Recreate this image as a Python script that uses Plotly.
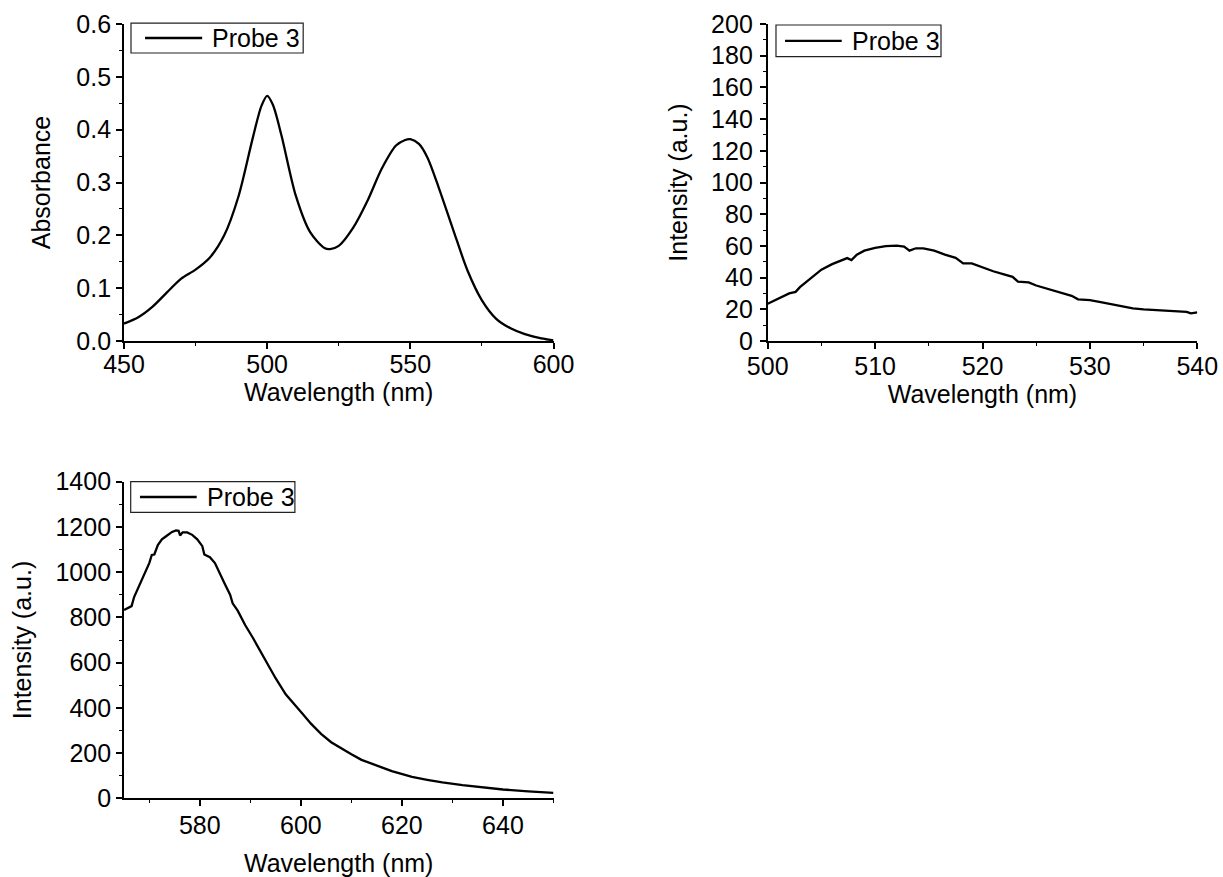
import plotly.graph_objects as go

# --- Absorption spectrum ---
abs_wavelength = [450, 455, 460, 465, 470, 475, 480, 485, 490, 495, 498, 500, 502, 505,
                  510, 515, 520, 522, 525, 530, 535, 540, 545, 548, 550, 553, 556, 560,
                  565, 570, 575, 580, 585, 590, 595, 600]
absorbance = [0.033, 0.045, 0.065, 0.092, 0.118, 0.135, 0.158, 0.200, 0.274, 0.385, 0.445,
              0.464, 0.447, 0.389, 0.275, 0.206, 0.176, 0.174, 0.180, 0.214, 0.265, 0.326,
              0.370, 0.380, 0.382, 0.373, 0.347, 0.289, 0.210, 0.133, 0.077, 0.042, 0.024,
              0.013, 0.006, 0.001]

# --- Emission spectrum (short range) ---
em1_wavelength = [500.0, 501.0, 502.0, 502.6, 503.0, 504.0, 505.0, 506.0, 507.0, 507.4, 507.8,
                  508.3, 509.0, 510.0, 511.0, 512.0, 512.7, 513.2, 513.8, 514.5, 515.5,
                  516.5, 517.5, 518.2, 519.0, 520.0, 521.0, 522.0, 522.8, 523.3, 524.3,
                  525.0, 526.0, 527.0, 528.3, 528.9, 530.0, 531.0, 532.0, 533.0, 534.0,
                  535.0, 536.5, 538.0, 539.0, 539.4, 540.0]
em1_intensity = [23.5, 26.5, 30.0, 31.0, 34.0, 39.5, 45.0, 48.5, 51.5, 52.3, 51.0,
                 54.5, 57.0, 58.7, 59.8, 60.2, 59.5, 57.0, 58.5, 58.5, 57.0,
                 54.5, 52.5, 49.0, 49.0, 46.5, 44.0, 42.0, 40.5, 37.5, 37.0,
                 35.0, 33.0, 30.8, 28.5, 26.3, 25.8, 24.5, 23.3, 22.0, 20.6,
                 20.0, 19.3, 18.8, 18.4, 17.4, 18.0]

# --- Emission spectrum (long range) ---
em2_wavelength = [565.0, 566.0, 566.5, 567.0, 568.0, 569.0, 570.0, 570.5, 571.0, 571.7,
                  572.5, 573.4, 574.5, 575.3, 575.8, 576.1, 576.6, 577.5, 578.5, 579.5,
                  580.5, 580.9, 582.0, 583.0, 584.0, 585.0, 586.0, 586.5, 587.5, 589.0,
                  590.5, 592.0, 593.5, 595.0, 597.0, 599.0, 600.5, 602.0, 604.0, 606.0,
                  608.0, 610.0, 612.0, 614.0, 616.0, 618.0, 620.0, 622.0, 625.0, 628.0,
                  632.0, 636.0, 640.0, 645.0, 650.0]
em2_intensity = [833, 845, 850, 890, 940, 990, 1040, 1076, 1078, 1120,
                 1145, 1160, 1178, 1185, 1183, 1162, 1176, 1176, 1165, 1145,
                 1115, 1078, 1066, 1040, 990, 945, 900, 862, 830, 765,
                 710, 650, 595, 531, 460, 410, 370, 330, 285, 248,
                 220, 195, 170, 152, 137, 120, 106, 95, 82, 70,
                 58, 48, 39, 31, 24]

legend_label = "Probe 3"
x_title = "Wavelength (nm)"

FONT = "Arial, 'Liberation Sans', sans-serif"
FS = 25
W, H = 1223, 877
LINE_W = 2.3

fig = go.Figure()
fig.add_trace(go.Scatter(x=abs_wavelength, y=absorbance, mode="lines", name=legend_label,
                         line=dict(color="black", width=LINE_W, shape="spline", smoothing=0.8),
                         xaxis="x", yaxis="y"))
fig.add_trace(go.Scatter(x=em1_wavelength, y=em1_intensity, mode="lines", name=legend_label,
                         line=dict(color="black", width=LINE_W),
                         xaxis="x2", yaxis="y2"))
fig.add_trace(go.Scatter(x=em2_wavelength, y=em2_intensity, mode="lines", name=legend_label,
                         line=dict(color="black", width=LINE_W),
                         xaxis="x3", yaxis="y3"))


def px_x(p):
    return p / W


def px_y(p):
    return 1 - p / H


common = dict(showgrid=False, zeroline=False, showline=True, linecolor="black", linewidth=1.8,
              ticks="outside", ticklen=6, tickwidth=1.5, tickcolor="black", automargin=False,
              tickfont=dict(family=FONT, size=FS, color="black"), mirror=False)


def axis(domain, rng, dtick, minor, title, standoff, anchor, **kw):
    d = dict(common)
    d.update(domain=domain, range=rng, dtick=dtick, tick0=0, anchor=anchor,
             minor=dict(ticks="outside", ticklen=3, tickwidth=1.3, tickcolor="black", dtick=minor,
                        showgrid=False),
             title=dict(text=title, font=dict(family=FONT, size=FS, color="black"), standoff=standoff))
    d.update(kw)
    return d


left_dom = [px_x(124), px_x(553.5)]
right_dom = [px_x(767.7), px_x(1197.3)]
top_dom = [px_y(341), px_y(24)]
bot_dom = [px_y(798.3), px_y(481.7)]

fig.update_layout(
    width=W, height=H, margin=dict(l=0, r=0, t=0, b=0),
    paper_bgcolor="white", plot_bgcolor="white", showlegend=False,
    font=dict(family=FONT, size=FS, color="black"),
    xaxis=axis(left_dom, [450, 600], 50, 25, x_title, 0, "y", ticklabelstandoff=-6),
    yaxis=axis(top_dom, [0, 0.6], 0.1, 0.05, "Absorbance", 19, "x", tickformat=".1f"),
    xaxis2=axis(right_dom, [500, 540], 10, 5, x_title, 0, "y2", ticklabelstandoff=-4),
    yaxis2=axis(top_dom, [0, 200], 20, 10, "Intensity (a.u.)", 16, "x2", ticklabelstandoff=2),
    xaxis3=axis(left_dom, [565, 650], 20, 10, x_title, 18, "y3", ticklabelstandoff=-2),
    yaxis3=axis(bot_dom, [0, 1400], 200, 100, "Intensity (a.u.)", 17, "x3"),
)

# Boxed key in the upper-left corner of each panel (fractions of the panel area)
keys = [
    # (x ref, y ref, box x0, box x1, box y0, box y1, line x0, line x1, line y, text x)
    ("x", "y", 0.0163, 0.4172, 0.9085, 1.003, 0.049, 0.182, 0.9558, 0.200),
    ("x2", "y2", 0.0193, 0.4034, 0.8968, 0.9968, 0.0403, 0.1723, 0.9470, 0.191),
    ("x3", "y3", 0.0156, 0.3979, 0.9034, 1.000, 0.0372, 0.1692, 0.9517, 0.188),
]
for xr, yr, bx0, bx1, by0, by1, lx0, lx1, ly, tx in keys:
    fig.add_shape(type="rect", xref=f"{xr} domain", yref=f"{yr} domain",
                  x0=bx0, x1=bx1, y0=by0, y1=by1,
                  line=dict(color="#222222", width=1.2), fillcolor="white", layer="above")
    fig.add_shape(type="line", xref=f"{xr} domain", yref=f"{yr} domain",
                  x0=lx0, x1=lx1, y0=ly, y1=ly,
                  line=dict(color="black", width=LINE_W), layer="above")
    fig.add_annotation(xref=f"{xr} domain", yref=f"{yr} domain", x=tx, y=ly,
                       text=legend_label, showarrow=False, xanchor="left", yanchor="middle",
                       font=dict(family=FONT, size=FS, color="black"))

fig.write_html("out.html")
